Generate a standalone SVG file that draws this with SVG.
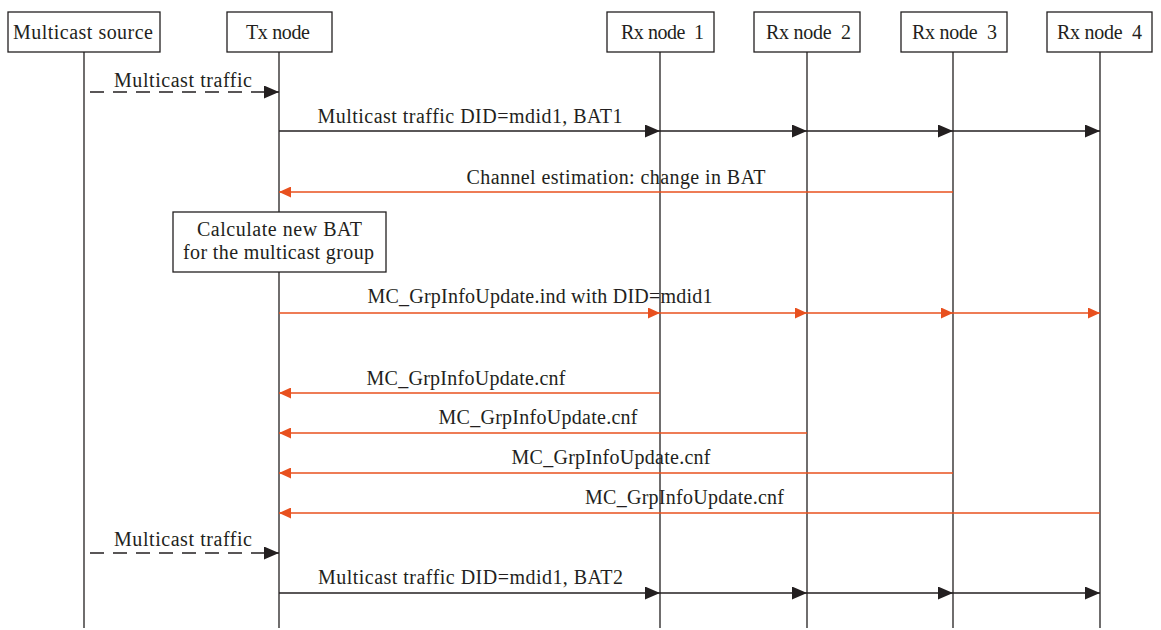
<svg xmlns="http://www.w3.org/2000/svg" width="1161" height="630" viewBox="0 0 1161 630">
<style>
.box{fill:#fff;stroke:#231f20;stroke-width:1.3}
.life{stroke:#231f20;stroke-width:1.3}
.t{font-family:"Liberation Serif","Times New Roman",serif;font-size:20px;fill:#231f20;text-anchor:middle}
.blk{stroke:#231f20;stroke-width:1.3;fill:none;marker-end:url(#ab)}
.dash{stroke:#231f20;stroke-width:1.3;fill:none;stroke-dasharray:14,9;marker-end:url(#ab)}
.red{stroke:#e8501e;stroke-width:1.5;fill:none;marker-end:url(#ar)}
</style>
<defs>
<marker id="ab" viewBox="0 0 15 13" refX="15" refY="6.5" markerWidth="15" markerHeight="13" markerUnits="userSpaceOnUse" orient="auto"><path d="M0,0L15,6.5L0,13z" fill="#231f20"/></marker>
<marker id="ar" viewBox="0 0 12 11" refX="12" refY="5.5" markerWidth="12" markerHeight="11" markerUnits="userSpaceOnUse" orient="auto"><path d="M0,0L12,5.5L0,11z" fill="#e8501e"/></marker>
</defs>
<rect width="1161" height="630" fill="#fff"/>
<g id="lifelines">
<line class="life" x1="84" y1="52" x2="84" y2="628"/>
<line class="life" x1="279" y1="52" x2="279" y2="628"/>
<line class="life" x1="660" y1="52" x2="660" y2="628"/>
<line class="life" x1="807" y1="52" x2="807" y2="628"/>
<line class="life" x1="953" y1="52" x2="953" y2="628"/>
<line class="life" x1="1100" y1="52" x2="1100" y2="628"/>
</g>
<g id="n-source"><rect class="box" x="8" y="12" width="152" height="40"/><text class="t" x="83" y="39" textLength="140" lengthAdjust="spacing">Multicast source</text></g>
<g id="n-tx"><rect class="box" x="227" y="12" width="105" height="40"/><text class="t" x="278" y="39" textLength="64" lengthAdjust="spacing">Tx node</text></g>
<g id="n-rx1"><rect class="box" x="607" y="12" width="107" height="40"/><text class="t" x="662.5" y="39" textLength="83" lengthAdjust="spacing" xml:space="preserve">Rx node  1</text></g>
<g id="n-rx2"><rect class="box" x="754" y="12" width="106" height="40"/><text class="t" x="808.5" y="39" textLength="85" lengthAdjust="spacing" xml:space="preserve">Rx node  2</text></g>
<g id="n-rx3"><rect class="box" x="901" y="12" width="106" height="40"/><text class="t" x="954.5" y="39" textLength="85" lengthAdjust="spacing" xml:space="preserve">Rx node  3</text></g>
<g id="n-rx4"><rect class="box" x="1047" y="12" width="105" height="40"/><text class="t" x="1099.5" y="39" textLength="85" lengthAdjust="spacing" xml:space="preserve">Rx node  4</text></g>
<g id="n-calc"><rect class="box" x="173" y="212" width="213" height="60"/><text class="t" x="279.5" y="236" textLength="165" lengthAdjust="spacing">Calculate new BAT</text><text class="t" x="278.5" y="259" textLength="191" lengthAdjust="spacing">for the multicast group</text></g>
<g id="connectors">
<path class="dash" d="M90,92H279"/>
<path class="blk" d="M279,131H660"/><path class="blk" d="M660,131H807"/><path class="blk" d="M807,131H953"/><path class="blk" d="M953,131H1100"/>
<path class="red" d="M953,192H279"/>
<path class="red" d="M279,313H660"/><path class="red" d="M660,313H807"/><path class="red" d="M807,313H953"/><path class="red" d="M953,313H1100"/>
<path class="red" d="M660,393H279"/>
<path class="red" d="M807,433H279"/>
<path class="red" d="M953,473H279"/>
<path class="red" d="M1100,513H279"/>
<path class="dash" d="M90,553H279"/>
<path class="blk" d="M279,593H660"/><path class="blk" d="M660,593H807"/><path class="blk" d="M807,593H953"/><path class="blk" d="M953,593H1100"/>
</g>
<g id="labels">
<text class="t" x="183" y="87" textLength="138" lengthAdjust="spacing">Multicast traffic</text>
<text class="t" x="470" y="123" textLength="305" lengthAdjust="spacing">Multicast traffic DID=mdid1, BAT1</text>
<text class="t" x="616" y="184" textLength="299" lengthAdjust="spacing">Channel estimation: change in BAT</text>
<text class="t" x="540" y="303" textLength="345" lengthAdjust="spacing">MC_GrpInfoUpdate.ind with DID=mdid1</text>
<text class="t" x="466" y="385" textLength="199" lengthAdjust="spacing">MC_GrpInfoUpdate.cnf</text>
<text class="t" x="538" y="424" textLength="199" lengthAdjust="spacing">MC_GrpInfoUpdate.cnf</text>
<text class="t" x="611" y="464" textLength="199" lengthAdjust="spacing">MC_GrpInfoUpdate.cnf</text>
<text class="t" x="684.5" y="504" textLength="199" lengthAdjust="spacing">MC_GrpInfoUpdate.cnf</text>
<text class="t" x="183" y="546" textLength="138" lengthAdjust="spacing">Multicast traffic</text>
<text class="t" x="470.5" y="584" textLength="305" lengthAdjust="spacing">Multicast traffic DID=mdid1, BAT2</text>
</g>
</svg>
